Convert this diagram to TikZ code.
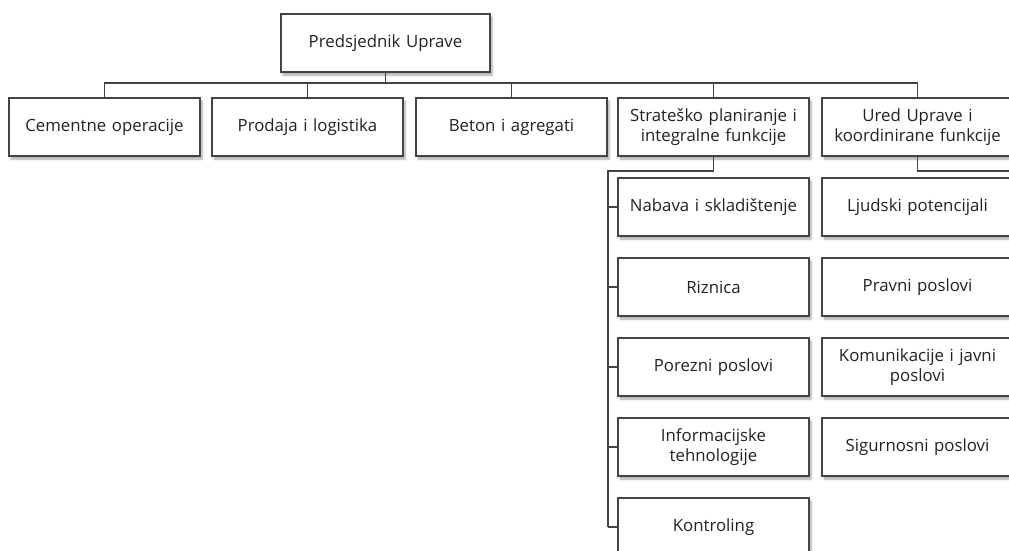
\documentclass[tikz,border=0pt]{standalone}
\usepackage{fontspec}
\setmainfont{Open Sans}
\usetikzlibrary{shadows.blur}
\definecolor{boxline}{HTML}{444444}
\definecolor{txt}{HTML}{222222}
\tikzset{
  unit/.style={draw=boxline, line width=1.4pt, fill=white, minimum width=191pt, minimum height=58pt,
    text width=187pt, align=center, font=\fontsize{16.8}{20.5}\selectfont, text=txt, inner sep=0pt,
    blur shadow={shadow xshift=2pt, shadow yshift=-3pt, shadow blur steps=6, shadow opacity=35}},
  conn/.style={draw=boxline, line width=1.1pt}
}
\begin{document}
\begin{tikzpicture}[x=1pt,y=-1pt]
\useasboundingbox (0,0) rectangle (1009,551);
\clip (0,0) rectangle (1009,551);
\coordinate (busy) at (0,83);
\coordinate (sp) at (608,171);
\coordinate (uend) at (1015,171);

\node[unit, minimum width=209pt] (P) at (385.5,43) {Predsjednik Uprave};

\node[unit] (c1) at (104.5,127) {Cementne operacije};
\node[unit] (c2) at (307.5,127) {Prodaja i logistika};
\node[unit] (c3) at (511.5,127) {Beton i agregati};
\node[unit] (c4) at (713.5,127) {Strateško planiranje i\\integralne funkcije};
\node[unit] (c5) at (917.5,127) {Ured Uprave i\\koordinirane funkcije};

\node[unit] (s1) at (713.5,207) {Nabava i skladištenje};
\node[unit] (s2) at (713.5,287) {Riznica};
\node[unit] (s3) at (713.5,367) {Porezni poslovi};
\node[unit] (s4) at (713.5,447) {Informacijske\\tehnologije};
\node[unit] (s5) at (713.5,527) {Kontroling};

\node[unit] (u1) at (917.5,207) {Ljudski potencijali};
\node[unit] (u2) at (917.5,287) {Pravni poslovi};
\node[unit] (u3) at (917.5,367) {Komunikacije i javni\\poslovi};
\node[unit] (u4) at (917.5,447) {Sigurnosni poslovi};

\draw[conn] (P.south) -- (P.south |- busy);
\draw[conn] (c1.north) -- (c1.north |- busy) -- (c5.north |- busy) -- (c5.north);
\foreach \c in {c2,c3,c4} \draw[conn] (\c.north) -- (\c.north |- busy);

\draw[conn] (c4.south) -- (c4.south |- sp) -- (sp) -- (sp |- s5.west);
\foreach \s in {s1,s2,s3,s4,s5} \draw[conn] (sp |- \s.west) -- (\s.west);

\draw[conn] (c5.south) -- (c5.south |- uend) -- (uend);
\end{tikzpicture}
\end{document}
